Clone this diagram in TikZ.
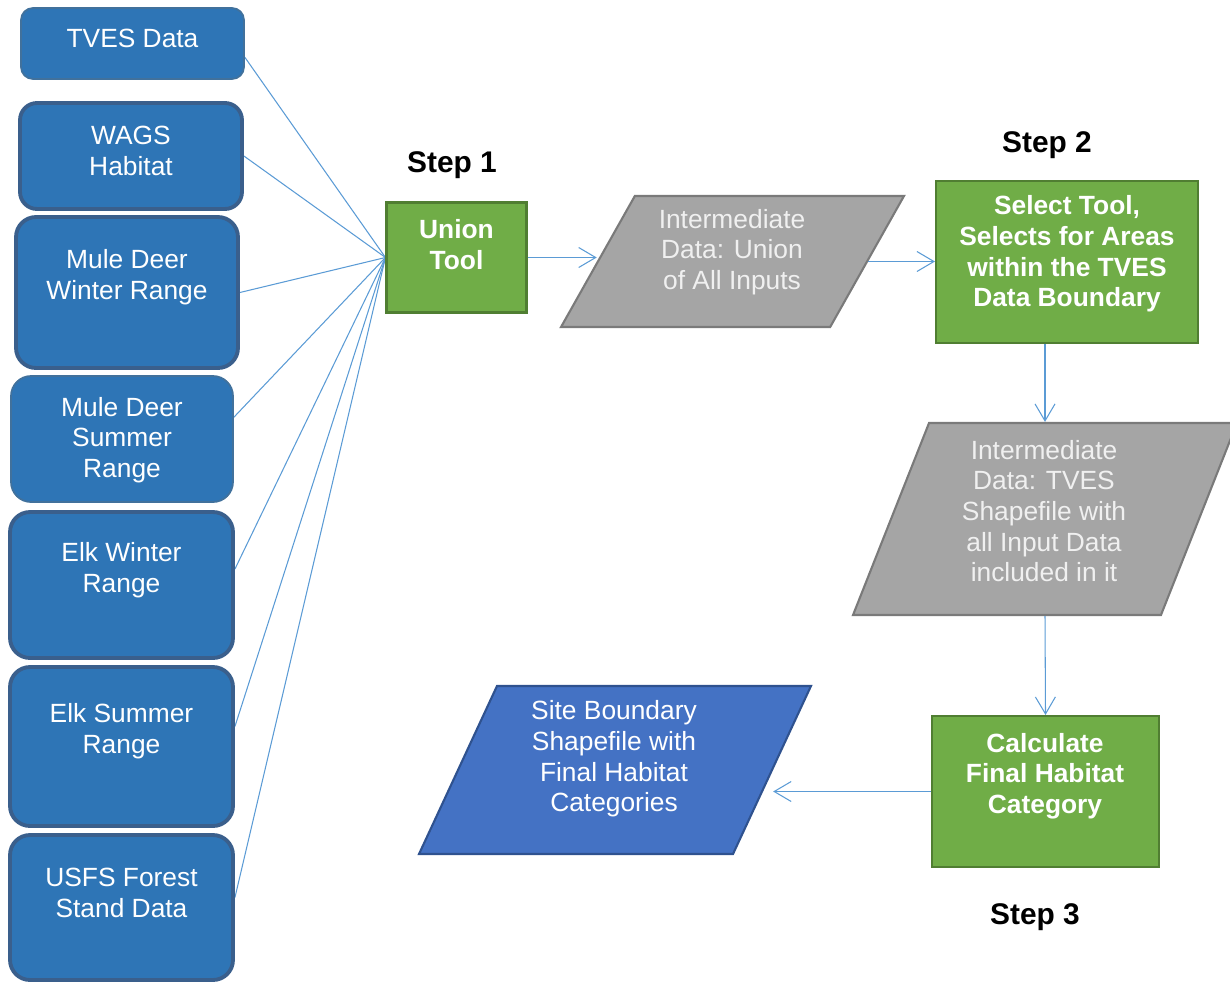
\documentclass[tikz,border=0pt]{standalone}
\usepackage{fontspec}
\setmainfont{Liberation Sans}
\usetikzlibrary{shapes.geometric,arrows.meta}
\pgfdeclarelayer{background}
\pgfsetlayers{background,main}

\definecolor{inputblue}{HTML}{2E75B6}
\definecolor{inputedge}{HTML}{3A5F8C}
\definecolor{inputthin}{HTML}{41719C}
\definecolor{toolgreen}{HTML}{70AD47}
\definecolor{tooledge}{HTML}{507E32}
\definecolor{datagray}{HTML}{A5A5A5}
\definecolor{dataedge}{HTML}{7A7A7A}
\definecolor{outblue}{HTML}{4472C4}
\definecolor{outedge}{HTML}{2F528F}
\definecolor{linkblue}{HTML}{5B9BD5}

\tikzset{
  inbox/.style={draw=inputedge, line width=2.2pt, fill=inputblue, rounded corners=0.4cm},
  thinbox/.style={inbox, draw=inputthin, line width=1pt},
  toolbox/.style={draw=tooledge, line width=1.2pt, fill=toolgreen},
  databox/.style={trapezium, trapezium stretches body, inner sep=0pt, text depth=0pt,
    draw=dataedge, line width=1.2pt, fill=datagray},
  outbox/.style={databox, draw=outedge, fill=outblue},
  intext/.style={text=white, align=center, font=\fontsize{15}{17.4}\selectfont},
  tooltext/.style={intext, font=\fontsize{15}{17.4}\selectfont\bfseries},
  datatext/.style={intext, text=white!94!black},
  steplabel/.style={font=\fontsize{17}{20}\selectfont\bfseries},
  feed/.style={draw=linkblue, line width=0.6pt},
  flow/.style={feed, -{Straight Barb[length=0.34cm, width=0.4cm]}}
}

\begin{document}
\begin{tikzpicture}[x=0.02cm, y=-0.02cm]
\useasboundingbox (0,0) rectangle (1230,984);

\node[thinbox, rounded corners=0.24cm, minimum width=4.46cm, minimum height=1.42cm] (tves) at (132.5,43.5) {};
\node[intext] (tves-lbl) at (132.5,38) {TVES Data};
\node[inbox, rounded corners=0.34cm, minimum width=4.44cm, minimum height=2.12cm] (wags) at (131,156) {};
\node[intext] (wags-lbl) at (131,151) {WAGS\\Habitat};
\node[inbox, minimum width=4.44cm, minimum height=3.02cm] (mdw) at (127,292.5) {};
\node[intext] (mdw-lbl) at (127,277) {Mule Deer\\Winter Range};
\node[thinbox, minimum width=4.44cm, minimum height=2.52cm] (mds) at (122,439) {};
\node[intext] (mds-lbl) at (122,440) {Mule Deer\\Summer\\Range};
\node[inbox, minimum width=4.46cm, minimum height=2.92cm] (elkw) at (121.5,585) {};
\node[intext] (elkw-lbl) at (121.5,570) {Elk Winter\\Range};
\node[inbox, minimum width=4.46cm, minimum height=3.18cm] (elks) at (121.5,746.5) {};
\node[intext] (elks-lbl) at (121.5,731) {Elk Summer\\Range};
\node[inbox, minimum width=4.46cm, minimum height=2.9cm] (usfs) at (121.5,907.5) {};
\node[intext] (usfs-lbl) at (121.5,893) {USFS Forest\\Stand Data};

\node[steplabel] (step1) at (452,165) {Step 1};
\node[toolbox, minimum width=2.8cm, minimum height=2.2cm] (union) at (456.5,257.5) {};
\node[tooltext] (union-lbl) at (456.5,244.5) {Union\\Tool};

\node[databox, trapezium left angle=60.6, trapezium right angle=119.4, minimum width=6.86cm, text height=2.62cm] (unioned) at (732.5,261.5) {};
\node[datatext] (unioned-lbl) at (732,252) {Intermediate\\Data: Union\\of All Inputs};

\node[steplabel] (step2) at (1047,145) {Step 2};
\node[toolbox, minimum width=5.24cm, minimum height=3.24cm] (select) at (1067,262) {};
\node[tooltext] (select-lbl) at (1067,254) {Select Tool,\\Selects for Areas\\within the TVES\\Data Boundary};

\node[databox, trapezium left angle=68.4, trapezium right angle=111.6, minimum width=7.68cm, text height=3.84cm] (selected) at (1045,519) {};
\node[datatext] (selected-lbl) at (1044,511) {Intermediate\\Data: TVES\\Shapefile with\\all Input Data\\included in it};

\node[toolbox, minimum width=4.54cm, minimum height=3.02cm] (calc) at (1045.5,791.5) {};
\node[tooltext] (calc-lbl) at (1045,776) {Calculate\\Final Habitat\\Category};
\node[steplabel] (step3) at (1035,917) {Step 3};

\node[outbox, trapezium left angle=65.1, trapezium right angle=114.9, minimum width=7.84cm, text height=3.36cm] (final) at (615,770) {};
\node[intext] (final-lbl) at (614,759) {Site Boundary\\Shapefile with\\Final Habitat\\Categories};

\begin{pgfonlayer}{background}
\foreach \src/\ang in {tves/-7,wags/0,mdw/0,mds/11,elkw/8,elks/10,usfs/5}
  \draw[feed] (\src.\ang) -- (union.west);
\end{pgfonlayer}
\draw[flow] (union.east) -- (union.east -| unioned.west);
\draw[flow] (unioned.east) -- (unioned.east -| select.west);
\draw[flow] (select.south -| selected) -- (selected.north -| selected);
\draw[flow] (selected.south -| selected) -- (calc.north);
\draw[flow] (calc.west) -- (calc.west -| final.east);
\end{tikzpicture}
\end{document}
